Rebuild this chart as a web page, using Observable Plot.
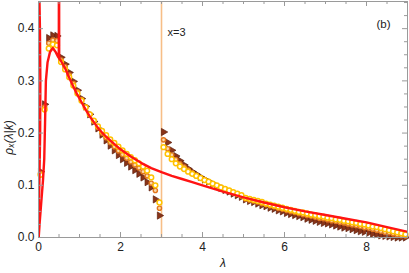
<!DOCTYPE html>
<html><head><meta charset="utf-8">
<script src="https://cdn.jsdelivr.net/npm/d3@7"></script>
<script src="https://cdn.jsdelivr.net/npm/@observablehq/plot@0.6"></script>
<style>body{margin:0;background:#fff} svg{display:block}</style>
</head><body><div id="chart"></div>
<script>
const lam = [0.05,0.15,0.25,0.35,0.45,0.55,0.65,0.75,0.85,0.95,
1.05,1.15,1.25,1.35,1.45,1.55,1.65,1.75,1.85,1.95,
2.05,2.15,2.25,2.35,2.45,2.55,2.65,2.75,2.85,2.95,
3.05,3.15,3.25,3.35,3.45,3.55,3.65,3.75,3.85,3.95,
4.05,4.15,4.25,4.35,4.45,4.55,4.65,4.75,4.85,4.95,
5.05,5.15,5.25,5.35,5.45,5.55,5.65,5.75,5.85,5.95,
6.05,6.15,6.25,6.35,6.45,6.55,6.65,6.75,6.85,6.95,
7.05,7.15,7.25,7.35,7.45,7.55,7.65,7.75,7.85,7.95,
8.05,8.15,8.25,8.35,8.45,8.55,8.65,8.75,8.85,8.95];

const yellow = [0.120,0.245,0.362,0.370,0.368,
0.336,0.322,0.307,0.291,0.276,
0.262,0.249,0.236,0.224,0.213,
0.204,0.196,0.188,0.181,0.174,
0.167,0.160,0.154,0.148,0.142,
0.136,0.128,0.115,0.100,0.067,
0.173,0.160,0.150,0.142,0.136,
0.131,0.126,0.122,0.118,0.114,
0.110,0.107,0.103,0.100,0.096,
0.093,0.090,0.087,0.084,0.081,
0.076,0.074,0.072,0.070,0.068,
0.065,0.063,0.061,0.059,0.057,
0.055,0.053,0.051,0.049,0.048,
0.046,0.044,0.043,0.041,0.040,
0.038,0.037,0.035,0.034,0.032,
0.031,0.029,0.028,0.026,0.025,
0.023,0.021,0.020,0.018,0.016,
0.014,0.012,0.010,0.008,0.006];

const orange = [0.123,0.250,0.372,0.378,0.377,
0.340,0.327,0.311,0.295,0.279,
0.264,0.250,0.236,0.223,0.211,
0.200,0.191,0.182,0.174,0.166,
0.159,0.152,0.145,0.139,0.133,
0.126,0.118,0.104,0.090,0.056,
0.187,0.170,0.158,0.149,0.141,
0.135,0.129,0.124,0.119,0.115,
0.111,0.107,0.103,0.099,0.096,
0.092,0.089,0.086,0.083,0.080,
0.074,0.072,0.070,0.068,0.065,
0.063,0.061,0.059,0.056,0.054,
0.052,0.050,0.048,0.046,0.044,
0.042,0.041,0.039,0.037,0.036,
0.034,0.032,0.031,0.029,0.028,
0.026,0.024,0.023,0.021,0.019,
0.018,0.016,0.014,0.012,0.010,
0.009,0.007,0.005,0.004,0.003];

const brown = [0.126,0.255,0.382,0.387,0.386,
0.345,0.332,0.316,0.299,0.282,
0.266,0.251,0.236,0.222,0.209,
0.197,0.186,0.176,0.167,0.158,
0.150,0.143,0.136,0.129,0.122,
0.115,0.106,0.096,0.073,0.042,
0.202,0.182,0.167,0.156,0.147,
0.139,0.132,0.126,0.121,0.116,
0.111,0.107,0.103,0.099,0.095,
0.091,0.088,0.084,0.081,0.078,
0.073,0.070,0.068,0.065,0.062,
0.060,0.057,0.055,0.052,0.050,
0.047,0.045,0.043,0.041,0.039,
0.036,0.034,0.032,0.030,0.028,
0.027,0.025,0.023,0.021,0.019,
0.018,0.016,0.014,0.012,0.011,
0.009,0.007,0.006,0.004,0.003,
0.002,0.001,0.000,0.000,0.000];

// theory curve (red)
const redLam = [0.005,0.03,0.07,0.11,0.14,0.16,0.18,0.22,0.28,0.35,0.42,0.47,0.495,0.5,0.505,0.55,
0.65,0.75,0.85,0.95,1.05,1.15,1.25,1.35,1.45,1.55,1.65,1.75,1.85,1.95,2.05,2.25,2.5,2.75,
3.0,3.25,3.5,3.75,4.0,4.5,5.0,5.5,6.0,6.5,7.0,7.5,8.0,8.5,9.0];
const redVal = [0,0.03,0.07,0.11,0.15,0.22,0.30,0.335,0.355,0.363,0.355,0.347,0.344,0.7,0.343,0.338,
0.324,0.306,0.289,0.273,0.259,0.245,0.232,0.221,0.21,0.201,0.193,0.186,0.179,0.172,0.166,0.155,0.143,0.133,
0.125,0.118,0.112,0.106,0.1,0.088,0.077,0.067,0.058,0.05,0.043,0.036,0.029,0.02,0.011];
const redSpikeLam = [0,0.02,0.04,0.045,0.035,0.02,0.015];
const redSpikeVal = [0,0.1,0.2,0.3,0.4,0.47,0.6];

const xMajor = [0,2,4,6,8];
const xMinor = [0.5,1,1.5,2.5,3,3.5,4.5,5,5.5,6.5,7,7.5,8.5];
const yMajor = [0,0.1,0.2,0.3,0.4];
const yMinor = [0.025,0.05,0.075,0.125,0.15,0.175,0.225,0.25,0.275,0.325,0.35,0.375,0.425,0.45];
const markX = [3];
const yLabel = "ρₓ(λ|k)";
const xLabel = "λ";
const panel = "(b)";
const markText = "x=3";

const W = 409, H = 273, mL = 38, mR = 2, mT = 1, mB = 36;
const xDom = [0, 9], yDom = [0, 0.452];
const pxX = (W - mL - mR) / (xDom[1] - xDom[0]);
const pxY = (H - mT - mB) / (yDom[1] - yDom[0]);
const tx = (px) => px / pxY;
const ty = (px) => px / pxX;

const toPts = (ys) => lam.map((l, i) => ({x: l, y: ys[i]}));
const red = [
  ...redLam.map((l, i) => ({x: l, y: redVal[i], b: "main"})),
  ...redSpikeLam.map((l, i) => ({x: l, y: redSpikeVal[i], b: "spike"}))
];

const tickColor = "#9a9a9a";
const allX = [...xMajor.map(v => ({v, m: 1})), ...xMinor.map(v => ({v, m: 0}))];
const allY = [...yMajor.map(v => ({v, m: 1})), ...yMinor.map(v => ({v, m: 0}))];
const lenX = d => d.m ? tx(5) : tx(3);
const lenY = d => d.m ? ty(5) : ty(3);

const chart = Plot.plot({
  width: W, height: H,
  marginLeft: mL, marginRight: mR, marginTop: mT, marginBottom: mB,
  style: {fontFamily: "'Liberation Sans', Arial, sans-serif", fontSize: "12px", background: "#fff", color: "#222"},
  x: {domain: xDom},
  y: {domain: yDom},
  marks: [
    Plot.ruleX(markX, {x: d => d, stroke: "#F7BE87", strokeWidth: 1.6}),
    Plot.dot(toPts(brown), {x: "x", y: "y", symbol: "triangle", rotate: 90, r: 2.7, fill: "#8A3418", stroke: "#5C1C0A", strokeWidth: 0.7}),
    Plot.dot(toPts(orange), {x: "x", y: "y", r: 2.1, fill: "#FCD9A8", stroke: "#E2761C", strokeWidth: 1.4}),
    Plot.dot(toPts(yellow), {x: "x", y: "y", r: 2.4, fill: "#fff", stroke: "#FFC200", strokeWidth: 1.5}),
    Plot.line(red, {x: "x", y: "y", z: "b", stroke: "#FF1414", strokeWidth: 2.4, clip: true}),
    Plot.frame({stroke: tickColor, strokeWidth: 1}),
    Plot.ruleX(allX, {x: "v", y1: yDom[0], y2: d => yDom[0] + lenX(d), stroke: tickColor}),
    Plot.ruleX(allX, {x: "v", y1: yDom[1], y2: d => yDom[1] - lenX(d), stroke: tickColor}),
    Plot.ruleY(allY, {y: "v", x1: xDom[0], x2: d => xDom[0] + lenY(d), stroke: tickColor}),
    Plot.ruleY(allY, {y: "v", x1: xDom[1], x2: d => xDom[1] - lenY(d), stroke: tickColor}),
    Plot.axisX({ticks: xMajor, tickSize: 0, tickPadding: 5, fontSize: 12, label: null, tickFormat: d => String(d)}),
    Plot.axisY({ticks: yMajor, tickSize: 0, tickPadding: 4, fontSize: 12, label: null, tickFormat: d3.format(".1f")}),
    Plot.text([xLabel], {text: d => d, frameAnchor: "bottom", dy: 29, fontStyle: "italic", fontSize: 12}),
    Plot.text([yLabel], {text: d => d, frameAnchor: "left", textAnchor: "middle", rotate: -90, dx: -29, dy: 18, fontStyle: "italic", fontSize: 12}),
    Plot.text([panel], {text: d => d, frameAnchor: "top-right", textAnchor: "middle", dx: -24, dy: 18, fontSize: 11.5}),
    Plot.text(markX, {x: d => d, text: () => markText, frameAnchor: "top", textAnchor: "start", dx: 6, dy: 27, fontSize: 11})
  ]
});
document.getElementById("chart").appendChild(chart);
</script>
</body></html>
